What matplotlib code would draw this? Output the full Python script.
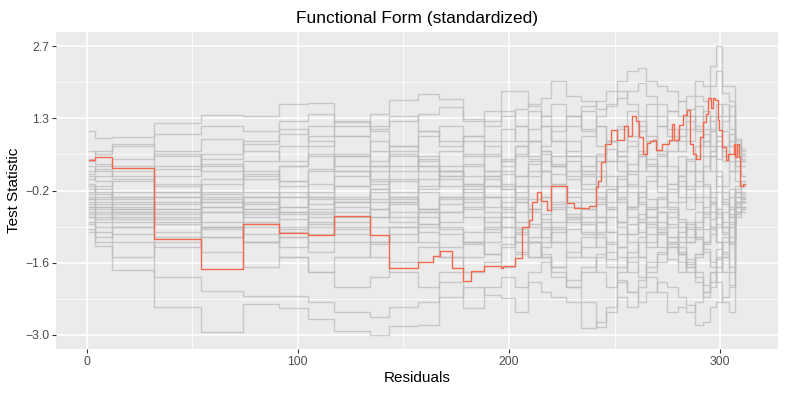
import matplotlib
matplotlib.use("Agg")
import matplotlib.pyplot as plt

plt.rcParams['font.family'] = ['Liberation Sans', 'DejaVu Sans']

# observed process (red)
red_x = [1, 4, 12, 32, 54, 74, 91, 105, 117, 134, 143, 157, 164, 167.4, 173, 178, 182, 188, 196, 197.3,
         203, 206, 209.4, 211, 213.3, 215.2, 218, 220, 227.4, 230.7, 237.8, 241, 242, 243.4, 245.6, 248.5,
         251.3, 254.5, 256.4, 258.4, 260.3, 261.4, 263.5, 265.4, 266.8, 268.4, 269.4, 272.5, 276, 277.2,
         278.2, 280.4, 282.5, 284.1, 285.7, 287.3, 288.8, 290.7, 292, 293.1, 294.4, 295.6, 296.4, 297.5,
         298.8, 299.4, 300.7, 302.6, 303.9, 306.6, 307.1, 307.9, 308.7, 309.5, 310.6]
red_y = [0.42, 0.49, 0.27, -1.15, -1.74, -0.85, -1.02, -1.06, -0.69, -1.06, -1.73, -1.60, -1.49, -1.39,
         -1.73, -1.98, -1.79, -1.69, -1.73, -1.68, -1.53, -0.91, -0.77, -0.41, -0.21, -0.39, -0.56, -0.10,
         -0.43, -0.53, -0.49, -0.11, 0.00, 0.39, 0.75, 1.03, 0.83, 1.11, 0.90, 1.30, 1.21, 0.89, 0.54,
         0.77, 0.81, 0.83, 0.62, 0.75, 0.82, 1.14, 0.82, 1.12, 1.32, 1.43, 0.75, 0.55, 0.45, 0.89, 1.19,
         1.35, 1.65, 1.47, 1.65, 1.62, 1.22, 1.02, 0.69, 0.42, 0.54, 0.74, 0.49, 0.74, 0.49, -0.09, -0.05]
x_end = 312

# simulated processes (grey), one value per segment between gray_x breakpoints
gray_x = [1, 4, 12, 32, 54, 74, 91, 105, 117, 134, 143, 157, 167, 178, 188, 196, 203, 209, 215, 220,
          227, 234, 241, 246, 251, 256, 261, 265, 270, 275, 280, 284, 288, 292, 295, 298, 301, 304, 307, 310]

sims = [
    [1.00, 0.87, 0.89, 1.17, 1.33, 1.30, 1.55, 1.57, 1.19, 1.05, 1.20, 1.35, 1.48, 1.25, 1.10, 1.30, 1.45, 1.55, 1.65, 1.99,
     1.70, 1.60, 1.45, 1.50, 1.65, 1.80, 1.95, 1.70, 1.55, 1.40, 1.30, 1.45, 1.70, 1.60, 1.90, 2.20, 1.75, 1.60, 0.85, 0.55],
    [-0.95, -1.28, -1.76, -2.49, -3.00, -2.43, -2.51, -2.73, -2.98, -3.05, -2.88, -2.85, -2.30, -2.10, -2.25, -2.31, -2.60, -2.00, -2.20, -2.30,
     -2.40, -2.91, -2.80, -2.50, -2.00, -2.20, -2.40, -2.20, -2.00, -2.10, -2.30, -2.45, -2.85, -2.80, -2.50, -2.40, -2.30, -2.10, -0.70, -0.60],
    [0.60, 0.55, 0.70, 0.95, 1.10, 1.00, 1.20, 1.35, 1.10, 1.35, 1.61, 1.73, 1.63, 1.20, 1.40, 1.79, 1.80, 1.50, 1.30, 1.10,
     1.30, 1.50, 1.60, 1.80, 2.00, 2.20, 2.25, 2.00, 1.90, 1.80, 1.60, 1.70, 2.00, 1.90, 2.30, 2.69, 1.90, 1.90, 0.80, 0.40],
    [-0.70, -1.00, -1.20, -1.91, -2.17, -2.28, -2.28, -2.40, -2.60, -2.70, -2.50, -2.40, -2.00, -2.51, -2.10, -1.90, -2.10, -1.80, -1.60, -1.90,
     -2.10, -2.40, -2.90, -2.60, -2.30, -2.50, -2.10, -1.90, -2.20, -2.60, -2.50, -2.60, -2.40, -2.20, -1.80, -2.00, -2.40, -2.60, -0.50, -0.40],
    [-0.30, -0.40, -0.50, -0.80, -0.60, -0.90, -1.10, -0.80, -0.50, -0.70, -0.40, -0.10, 0.20, 0.10, -0.30, -0.50, -0.20, 0.10, 0.40, 0.30,
     0.60, 0.90, 1.10, 0.80, 0.50, 0.70, 1.00, 1.30, 1.10, 0.90, 0.60, 0.80, 1.10, 1.40, 1.20, 0.90, 0.60, 0.40, 0.30, 0.10],
    [-0.50, -0.45, -0.60, -0.40, -0.20, 0.10, 0.30, 0.50, 0.20, 0.00, -0.30, -0.60, -0.90, -1.20, -1.00, -0.70, -0.40, -0.60, -0.90, -1.20,
     -1.50, -1.30, -1.00, -0.70, -0.90, -1.20, -1.50, -1.80, -1.60, -1.30, -1.00, -0.80, -1.10, -1.40, -1.70, -1.50, -1.20, -0.90, -0.40, -0.30],
    [0.20, 0.30, 0.45, 0.60, 0.85, 0.60, 0.40, 0.70, 0.90, 0.60, 0.30, 0.50, 0.20, -0.10, 0.10, 0.40, 0.70, 0.50, 0.20, -0.10,
     -0.40, -0.20, 0.10, 0.40, 0.20, -0.10, -0.40, -0.70, -0.50, -0.20, 0.10, 0.40, 0.20, -0.10, -0.40, -0.70, -1.00, -0.80, -0.20, -0.10],
    [-0.60, -0.70, -0.65, -1.00, -1.40, -1.70, -1.50, -1.80, -2.10, -1.90, -1.60, -1.30, -1.50, -1.80, -1.60, -1.30, -1.00, -1.20, -1.50, -1.70,
     -1.40, -1.10, -0.80, -1.00, -1.30, -1.60, -1.90, -1.60, -1.40, -1.10, -1.30, -1.60, -1.90, -2.20, -2.00, -1.70, -1.40, -1.10, -0.60, -0.50],
    [-0.20, -0.10, 0.00, 0.25, 0.45, 0.75, 0.95, 1.10, 0.90, 1.10, 1.30, 1.00, 0.70, 0.90, 1.20, 1.40, 1.10, 0.80, 0.60, 0.30,
     0.50, 0.20, -0.10, 0.10, -0.20, -0.50, -0.30, 0.00, 0.30, 0.60, 0.90, 1.20, 1.50, 1.30, 1.00, 0.70, 0.40, 0.20, 0.60, 0.50],
    [-0.40, -0.55, -0.75, -0.60, -0.90, -1.20, -1.00, -0.70, -0.40, -0.20, 0.00, 0.30, 0.10, -0.20, -0.50, -0.30, -0.60, -0.90, -1.10, -0.80,
     -0.50, -0.80, -1.10, -1.40, -1.70, -1.40, -1.10, -0.80, -1.00, -1.30, -1.60, -1.80, -1.50, -1.20, -0.90, -0.60, -0.90, -1.20, -0.30, -0.20],
    [0.40, 0.60, 0.75, 0.50, 0.20, 0.40, 0.70, 0.90, 1.20, 1.00, 0.70, 0.40, 0.60, 0.90, 0.70, 0.40, 0.10, 0.40, 0.70, 1.00,
     1.30, 1.00, 0.70, 0.40, 0.60, 0.90, 1.20, 0.90, 0.60, 0.30, 0.00, -0.30, 0.00, 0.30, 0.60, 0.90, 1.20, 1.50, 0.70, 0.60],
    [-0.80, -0.90, -1.05, -1.30, -1.10, -0.80, -1.10, -1.40, -1.20, -1.50, -1.80, -2.10, -1.80, -1.50, -1.20, -0.90, -1.20, -1.50, -1.30, -1.00,
     -0.70, -0.40, -0.70, -1.00, -0.80, -0.50, -0.20, -0.50, -0.80, -1.10, -1.40, -1.70, -2.00, -2.30, -2.10, -1.80, -1.50, -1.80, -0.50, -0.40],
    [-0.10, -0.25, -0.35, -0.20, 0.05, -0.20, -0.50, -0.30, -0.60, -0.90, -1.20, -0.90, -0.60, -0.30, -0.60, -0.90, -1.20, -1.50, -1.20, -0.90,
     -1.20, -1.50, -1.80, -2.10, -1.80, -1.50, -1.20, -0.90, -0.60, -0.90, -1.20, -0.90, -0.60, -0.30, -0.60, -0.90, -0.60, -0.30, -0.10, 0.00],
    [-0.35, -0.30, -0.20, 0.10, 0.35, 0.15, -0.10, 0.20, 0.50, 0.80, 0.60, 0.90, 1.10, 0.80, 0.50, 0.80, 1.10, 1.40, 1.10, 0.80,
     0.50, 0.20, 0.50, 0.80, 1.10, 1.40, 1.10, 0.80, 1.10, 1.40, 1.60, 1.30, 1.00, 0.70, 1.00, 1.30, 1.00, 0.70, 0.20, 0.10],
    [-0.55, -0.60, -0.80, -1.10, -0.90, -0.60, -0.30, -0.60, -0.90, -1.20, -0.90, -0.60, -0.30, -0.50, -0.80, -1.10, -1.40, -1.10, -0.80, -0.50,
     -0.20, 0.10, -0.20, -0.50, -0.80, -0.50, -0.20, 0.10, -0.20, -0.50, -0.80, -1.10, -0.80, -0.50, -0.20, 0.10, -0.20, -0.50, -0.50, -0.40],
    [0.05, 0.10, 0.20, -0.10, -0.40, -0.70, -0.50, -0.20, 0.10, 0.40, 0.70, 1.00, 0.80, 0.50, 0.20, -0.10, -0.40, -0.10, 0.20, 0.50,
     0.80, 0.50, 0.20, -0.10, -0.40, -0.70, -1.00, -1.30, -1.00, -0.70, -0.40, -0.10, 0.20, 0.50, 0.20, -0.10, -0.40, -0.70, -0.20, -0.30],
    [-0.45, -0.50, -0.55, -0.75, -0.50, -0.30, -0.60, -0.90, -0.70, -0.40, -0.70, -1.00, -1.30, -1.00, -0.70, -0.40, -0.10, 0.20, -0.10, -0.40,
     -0.70, -1.00, -0.70, -0.40, -0.10, 0.20, 0.50, 0.20, -0.10, -0.40, -0.10, 0.20, 0.50, 0.80, 0.50, 0.20, -0.10, 0.20, 0.00, -0.10],
    [-1.00, -1.20, -1.50, -1.20, -0.90, -1.20, -1.50, -1.80, -1.50, -1.20, -0.90, -1.20, -1.50, -1.20, -0.90, -0.60, -0.90, -1.20, -1.50, -1.80,
     -2.10, -1.80, -1.50, -1.20, -1.50, -1.80, -1.50, -1.20, -0.90, -0.60, -0.90, -1.20, -0.90, -0.60, -0.90, -1.20, -1.50, -1.20, -0.60, -0.50],
    [0.30, 0.20, 0.10, -0.20, -0.50, -0.30, 0.00, -0.30, -0.10, 0.20, 0.50, 0.20, -0.10, -0.40, -0.10, 0.20, 0.50, 0.80, 1.10, 0.80,
     1.10, 1.40, 1.10, 0.80, 0.50, 0.20, 0.50, 0.80, 0.50, 0.20, 0.50, 0.20, -0.10, 0.20, 0.50, 0.80, 0.50, 0.80, 0.40, 0.30],
    [-0.25, -0.35, -0.45, -0.30, -0.60, -0.40, -0.20, -0.45, -0.30, -0.55, -0.30, -0.55, -0.80, -0.55, -0.30, -0.05, -0.30, -0.55, -0.30, -0.05,
     0.20, -0.05, -0.30, -0.55, -0.80, -1.05, -0.80, -0.55, -0.30, -0.05, -0.30, -0.55, -0.30, -0.05, -0.30, -0.55, -0.80, -0.55, -0.30, -0.35],
    [-0.70, -0.80, -0.90, -0.70, -0.95, -1.20, -0.95, -1.20, -0.95, -0.70, -0.45, -0.70, -0.95, -1.20, -1.45, -1.70, -1.45, -1.20, -0.95, -1.20,
     -0.95, -0.70, -0.45, -0.20, 0.05, -0.20, -0.45, -0.70, -0.95, -1.20, -1.45, -1.20, -0.95, -0.70, -0.45, -0.20, -0.45, -0.70, -0.40, -0.30],
    [0.10, 0.00, -0.30, -0.55, -0.80, -1.05, -1.30, -1.05, -0.80, -0.55, -0.80, -0.55, -0.30, -0.05, 0.20, 0.45, 0.70, 0.45, 0.20, -0.05,
     -0.30, -0.55, -0.80, -0.55, -0.30, -0.05, 0.20, 0.45, 0.20, -0.05, 0.20, 0.45, 0.70, 0.95, 0.70, 0.45, 0.70, 0.95, 0.50, 0.40],
    [-0.15, -0.20, -0.40, -0.55, -0.35, -0.55, -0.75, -0.55, -0.35, -0.15, -0.35, -0.55, -0.35, -0.15, 0.05, -0.15, -0.35, -0.55, -0.75, -0.95,
     -0.75, -0.55, -0.35, -0.15, -0.35, -0.55, -0.75, -0.55, -0.35, -0.55, -0.75, -0.95, -1.15, -0.95, -0.75, -0.55, -0.35, -0.15, -0.20, -0.25],
    [-0.50, -0.65, -0.70, -0.45, -0.25, -0.45, -0.65, -0.85, -1.05, -1.25, -1.05, -0.85, -1.05, -1.25, -1.45, -1.25, -1.05, -0.85, -0.65, -0.45,
     -0.65, -0.85, -1.05, -1.25, -1.05, -0.85, -0.65, -0.85, -1.05, -1.25, -1.45, -1.65, -1.45, -1.25, -1.05, -0.85, -1.05, -1.25, -0.60, -0.55],
    [0.45, 0.35, 0.30, 0.55, 0.30, 0.05, 0.30, 0.55, 0.30, 0.05, -0.20, 0.05, 0.30, 0.55, 0.80, 1.05, 0.80, 1.05, 1.30, 1.55,
     1.30, 1.05, 1.30, 1.55, 1.80, 1.55, 1.30, 1.55, 1.30, 1.05, 0.80, 1.05, 1.30, 1.05, 1.30, 1.55, 1.30, 1.05, 0.50, 0.45],
    [-0.35, -0.50, -0.60, -0.85, -1.10, -0.85, -0.60, -0.35, -0.10, -0.35, -0.60, -0.85, -0.60, -0.35, -0.10, 0.15, -0.10, -0.35, -0.10, 0.15,
     0.40, 0.15, 0.40, 0.65, 0.40, 0.15, -0.10, -0.35, -0.60, -0.85, -1.10, -0.85, -1.10, -1.35, -1.60, -1.35, -1.10, -0.85, -0.40, -0.35],
    [-0.65, -0.75, -0.55, -0.30, -0.05, 0.20, 0.00, 0.25, 0.50, 0.30, 0.05, -0.20, -0.45, -0.70, -0.95, -0.70, -0.95, -1.20, -1.45, -1.70,
     -1.95, -1.70, -1.45, -1.70, -1.95, -2.20, -1.95, -1.70, -1.45, -1.20, -1.45, -1.70, -1.45, -1.20, -0.95, -1.20, -1.45, -1.70, -0.65, -0.55],
    [0.15, 0.25, 0.05, 0.30, 0.55, 0.80, 1.05, 0.80, 0.55, 0.30, 0.55, 0.30, 0.05, 0.30, 0.55, 0.30, 0.55, 0.80, 0.55, 0.30,
     0.05, 0.30, 0.55, 0.80, 1.05, 0.80, 0.55, 0.30, 0.55, 0.80, 1.05, 1.30, 1.05, 0.80, 1.05, 1.30, 1.55, 1.30, 0.75, 0.65],
    [-0.85, -1.10, -0.90, -0.65, -0.40, -0.65, -0.90, -0.65, -0.40, -0.15, -0.40, -0.15, 0.10, 0.35, 0.10, -0.15, 0.10, 0.35, 0.60, 0.35,
     0.10, -0.15, -0.40, -0.15, 0.10, 0.35, 0.60, 0.35, 0.10, -0.15, 0.10, -0.15, -0.40, -0.65, -0.40, -0.65, -0.90, -0.65, -0.15, -0.10],
    [-0.05, -0.15, -0.30, -0.05, -0.30, -0.55, -0.30, -0.05, 0.20, -0.05, 0.20, 0.45, 0.20, -0.05, -0.30, -0.55, -0.80, -0.55, -0.30, -0.55,
     -0.80, -1.05, -1.30, -1.55, -1.30, -1.05, -0.80, -1.05, -1.30, -1.55, -1.80, -1.55, -1.80, -2.05, -1.80, -1.55, -1.80, -2.05, -0.45, -0.40],
]

y_breaks = [-3.05, -1.615, -0.18, 1.255, 2.69]
y_labels = ['-3.0', '-1.6', '-0.2', '1.3', '2.7']
x_breaks = [0, 100, 200, 300]

fig = plt.figure(figsize=(7.85, 3.93), dpi=100)
ax = fig.add_axes([56 / 785, 1 - 349.3 / 393, (778.3 - 56) / 785, (349.3 - 31.7) / 393])
ax.set_facecolor('#EBEBEB')

for s in sims:
    ax.step(gray_x + [x_end], s + [s[-1]], where='post', color='#BABABA', alpha=0.7, lw=1.0, zorder=2)
ax.step(red_x + [x_end], red_y + [red_y[-1]], where='post', color='#F4694D', lw=1.0, zorder=3)

ax.set_xlim(-14.55, 327.55)
ax.set_ylim(-3.338, 2.978)

# ggplot-like grid
for xm in [50, 150, 250]:
    ax.axvline(xm, color='white', lw=0.55, zorder=1)
for i in range(len(y_breaks) - 1):
    ax.axhline((y_breaks[i] + y_breaks[i + 1]) / 2, color='white', lw=0.55, zorder=1)
for xb in x_breaks:
    ax.axvline(xb, color='white', lw=1.1, zorder=1)
for yb in y_breaks:
    ax.axhline(yb, color='white', lw=1.1, zorder=1)

ax.set_xticks(x_breaks)
ax.set_xticklabels([str(v) for v in x_breaks])
ax.set_yticks(y_breaks)
ax.set_yticklabels([l.replace('-', '\u2212') for l in y_labels])
ax.tick_params(length=2.8, width=0.8, color='#333333', labelcolor='#4D4D4D', labelsize=8.8, pad=2)
for sp in ax.spines.values():
    sp.set_visible(False)

ax.set_xlabel('Residuals', fontsize=11, labelpad=2)
ax.set_ylabel('Test Statistic', fontsize=11, labelpad=3)
ax.set_title('Functional Form (standardized)', fontsize=12.5, pad=6)

fig.savefig('out.png', dpi=100)
